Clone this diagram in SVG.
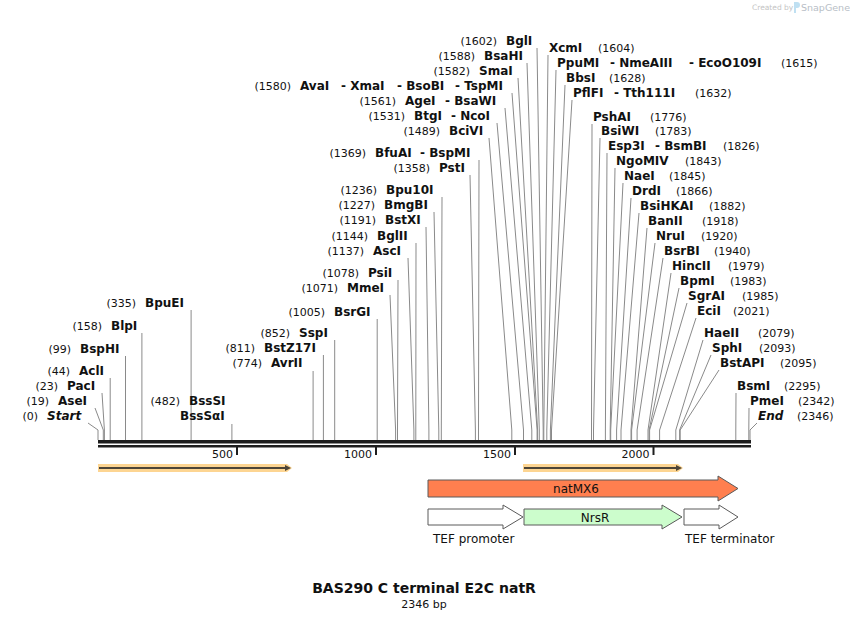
<svg xmlns="http://www.w3.org/2000/svg" width="850" height="620" viewBox="0 0 850 620">
<style>
text{font-family:"DejaVu Sans","Verdana",sans-serif;fill:#111}
.n{font-weight:bold;font-size:12px}
.i{font-weight:bold;font-style:italic;font-size:12px}
.d{font-size:11px}
.e{font-size:11px;text-anchor:end}
.ln{fill:none;stroke:#8a8a8a;stroke-width:1}
.tk{font-size:11px;text-anchor:end}
.ft{stroke:#5a5a5a;stroke-width:1}
.fl{font-size:12px}
</style>
<rect width="850" height="620" fill="#fff"/>
<g id="watermark">
<text x="752" y="10" style="font-size:7.5px;fill:#c4c4c4">Created by</text>
<path d="M794 2 h3 a3 3 0 0 1 0 6 h-1 v5 h-2 z" fill="#bfe0f2"/>
<text x="801" y="11" style="font-size:9.5px;fill:#b8bec6">SnapGene</text>
</g>
<g id="connectors">
<path class="ln" d="M88 423 L98 430 V440"/>
<path class="ln" d="M95 408 L103.3 430 V440"/>
<path class="ln" d="M102 393 L104.4 430 V440"/>
<path class="ln" d="M110.2 378 V440"/>
<path class="ln" d="M125.5 356 V440"/>
<path class="ln" d="M141.9 333 V440"/>
<path class="ln" d="M191.1 310 V440"/>
<path class="ln" d="M231.9 424 V440"/>
<path class="ln" d="M313.1 371 V440"/>
<path class="ln" d="M323.4 355 V440"/>
<path class="ln" d="M334.7 340 V440"/>
<path class="ln" d="M377.2 319 V440"/>
<path class="ln" d="M390 295 L395.6 430 V440"/>
<path class="ln" d="M398 280 L397.5 430 V440"/>
<path class="ln" d="M408 258 L413.9 430 V440"/>
<path class="ln" d="M416 243 L415.8 430 V440"/>
<path class="ln" d="M426 227 L428.9 430 V440"/>
<path class="ln" d="M434 212 L438.8 430 V440"/>
<path class="ln" d="M442 197 L441.3 430 V440"/>
<path class="ln" d="M470 175 L475.4 430 V440"/>
<path class="ln" d="M479 160 L478.5 430 V440"/>
<path class="ln" d="M489 138 L511.8 430 V440"/>
<path class="ln" d="M497 123 L523.5 430 V440"/>
<path class="ln" d="M505 108 L531.8 430 V440"/>
<path class="ln" d="M512 93 L537.1 430 V440"/>
<path class="ln" d="M518 78 L537.6 430 V440"/>
<path class="ln" d="M527 63 L539.3 430 V440"/>
<path class="ln" d="M537 48 L543.2 430 V440"/>
<path class="ln" d="M548 55 L543.8 430 V440"/>
<path class="ln" d="M556 70 L546.8 430 V440"/>
<path class="ln" d="M565 85 L550.4 430 V440"/>
<path class="ln" d="M572 100 L551.5 430 V440"/>
<path class="ln" d="M592 124 L591.5 430 V440"/>
<path class="ln" d="M600 138 L593.5 430 V440"/>
<path class="ln" d="M607 153 L605.4 430 V440"/>
<path class="ln" d="M615 168 L610.2 430 V440"/>
<path class="ln" d="M623 183 L610.7 430 V440"/>
<path class="ln" d="M631 198 L616.6 430 V440"/>
<path class="ln" d="M639 213 L621 430 V440"/>
<path class="ln" d="M647 228 L631 430 V440"/>
<path class="ln" d="M655 243 L631.6 430 V440"/>
<path class="ln" d="M663 258 L637.1 430 V440"/>
<path class="ln" d="M671 273 L648 430 V440"/>
<path class="ln" d="M679 288 L649.1 430 V440"/>
<path class="ln" d="M687 303 L649.6 430 V440"/>
<path class="ln" d="M696 318 L659.6 430 V440"/>
<path class="ln" d="M703 340 L675.8 430 V440"/>
<path class="ln" d="M711 355 L679.6 430 V440"/>
<path class="ln" d="M719 370 L680.2 430 V440"/>
<path class="ln" d="M736 393 L735.8 430 V440"/>
<path class="ln" d="M749 408 L748.8 430 V440"/>
<path class="ln" d="M757 423 L750 430 V440"/>
</g>
<g id="ruler">
<rect x="98" y="440" width="653" height="3.5" fill="#1e1e1e"/>
<rect x="98" y="445" width="653" height="2.5" fill="#1e1e1e"/>
<rect x="236" y="447" width="2" height="8" fill="#1e1e1e"/>
<rect x="375" y="447" width="2" height="8" fill="#1e1e1e"/>
<rect x="514" y="447" width="2" height="8" fill="#1e1e1e"/>
<rect x="652.5" y="447" width="2" height="8" fill="#1e1e1e"/>
<text class="tk" x="233" y="458">500</text>
<text class="tk" x="372" y="458">1000</text>
<text class="tk" x="511" y="458">1500</text>
<text class="tk" x="649.5" y="458">2000</text>
</g>
<g id="orf1">
<path d="M98 464 H287 L292 468 L287 472 H98 Z" fill="#fdd592"/>
<path d="M99 468 H286" stroke="#4d4538" stroke-width="2"/>
<path d="M285 465 L291 468 L285 471 Z" fill="#4d4538"/>
</g>
<g id="orf2">
<path d="M523 464 H678 L683 468 L678 472 H523 Z" fill="#fdd592"/>
<path d="M524 468 H677" stroke="#4d4538" stroke-width="2"/>
<path d="M676 465 L682 468 L676 471 Z" fill="#4d4538"/>
</g>
<g id="natMX6">
<path class="ft" d="M428 480 H718 V476 L738 488.5 L718 501 V497 H428 Z" fill="#ff7f4f"/>
<text class="fl" x="576" y="493" text-anchor="middle">natMX6</text>
</g>
<g id="TEF_promoter">
<path class="ft" d="M428 509 H503 V505 L523 517 L503 529 V525 H428 Z" fill="#fff"/>
<text class="fl" x="433" y="543">TEF promoter</text>
</g>
<g id="NrsR">
<path class="ft" d="M524 509 H662 V505 L682 517 L662 529 V525 H524 Z" fill="#ccfdcc"/>
<text class="fl" x="595" y="522" text-anchor="middle">NrsR</text>
</g>
<g id="TEF_terminator">
<path class="ft" d="M684 509 H719 V505 L738 517 L719 529 V525 H684 Z" fill="#fff"/>
<text class="fl" x="685" y="543">TEF terminator</text>
</g>
<g id="e_Start"><text class="e" x="38" y="420">(0)</text><text class="i" x="47" y="420">Start</text></g>
<g id="e_AseI"><text class="e" x="49" y="405">(19)</text><text class="n" x="58" y="405">AseI</text></g>
<g id="e_PacI"><text class="e" x="58" y="390">(23)</text><text class="n" x="67" y="390">PacI</text></g>
<g id="e_AclI"><text class="e" x="70" y="375">(44)</text><text class="n" x="79" y="375">AclI</text></g>
<g id="e_BspHI"><text class="e" x="71" y="353">(99)</text><text class="n" x="80" y="353">BspHI</text></g>
<g id="e_BlpI"><text class="e" x="102" y="330">(158)</text><text class="n" x="111" y="330">BlpI</text></g>
<g id="e_BpuEI"><text class="e" x="136" y="307">(335)</text><text class="n" x="145" y="307">BpuEI</text></g>
<g id="e_BssSI"><text class="e" x="180" y="405">(482)</text><text class="n" x="189" y="405">BssSI</text><text class="n" x="180" y="420">BssSαI</text></g>
<g id="e_AvrII"><text class="e" x="262" y="367">(774)</text><text class="n" x="271" y="367">AvrII</text></g>
<g id="e_BstZ17I"><text class="e" x="255" y="352">(811)</text><text class="n" x="264" y="352">BstZ17I</text></g>
<g id="e_SspI"><text class="e" x="290" y="337">(852)</text><text class="n" x="299" y="337">SspI</text></g>
<g id="e_BsrGI"><text class="e" x="325" y="316">(1005)</text><text class="n" x="334" y="316">BsrGI</text></g>
<g id="e_MmeI"><text class="e" x="338" y="292">(1071)</text><text class="n" x="347" y="292">MmeI</text></g>
<g id="e_PsiI"><text class="e" x="359" y="277">(1078)</text><text class="n" x="368" y="277">PsiI</text></g>
<g id="e_AscI"><text class="e" x="364" y="255">(1137)</text><text class="n" x="373" y="255">AscI</text></g>
<g id="e_BglII"><text class="e" x="368" y="240">(1144)</text><text class="n" x="377" y="240">BglII</text></g>
<g id="e_BstXI"><text class="e" x="376" y="224">(1191)</text><text class="n" x="385" y="224">BstXI</text></g>
<g id="e_BmgBI"><text class="e" x="375" y="209">(1227)</text><text class="n" x="384" y="209">BmgBI</text></g>
<g id="e_Bpu10I"><text class="e" x="377" y="194">(1236)</text><text class="n" x="386" y="194">Bpu10I</text></g>
<g id="e_PstI"><text class="e" x="430" y="172">(1358)</text><text class="n" x="439" y="172">PstI</text></g>
<g id="e_BfuAI"><text class="e" x="366" y="157">(1369)</text><text class="n" x="375" y="157">BfuAI</text><text class="n" x="420" y="157">- BspMI</text></g>
<g id="e_BciVI"><text class="e" x="440" y="135">(1489)</text><text class="n" x="449" y="135">BciVI</text></g>
<g id="e_BtgI"><text class="e" x="405" y="120">(1531)</text><text class="n" x="414" y="120">BtgI</text><text class="n" x="451" y="120">- NcoI</text></g>
<g id="e_AgeI"><text class="e" x="396" y="105">(1561)</text><text class="n" x="405" y="105">AgeI</text><text class="n" x="445" y="105">- BsaWI</text></g>
<g id="e_AvaI"><text class="e" x="291" y="90">(1580)</text><text class="n" x="300" y="90">AvaI</text><text class="n" x="341" y="90">- XmaI</text><text class="n" x="397" y="90">- BsoBI</text><text class="n" x="455" y="90">- TspMI</text></g>
<g id="e_SmaI"><text class="e" x="470" y="75">(1582)</text><text class="n" x="479" y="75">SmaI</text></g>
<g id="e_BsaHI"><text class="e" x="475" y="60">(1588)</text><text class="n" x="484" y="60">BsaHI</text></g>
<g id="e_BglI"><text class="e" x="497" y="45">(1602)</text><text class="n" x="506" y="45">BglI</text></g>
<g id="e_XcmI"><text class="n" x="549" y="52">XcmI</text><text class="d" x="598" y="52">(1604)</text></g>
<g id="e_PpuMI"><text class="n" x="557" y="67">PpuMI</text><text class="n" x="610" y="67">- NmeAIII</text><text class="n" x="689" y="67">- EcoO109I</text><text class="d" x="781" y="67">(1615)</text></g>
<g id="e_BbsI"><text class="n" x="566" y="82">BbsI</text><text class="d" x="609" y="82">(1628)</text></g>
<g id="e_PflFI"><text class="n" x="573" y="97">PflFI</text><text class="n" x="614" y="97">- Tth111I</text><text class="d" x="695" y="97">(1632)</text></g>
<g id="e_PshAI"><text class="n" x="593" y="121">PshAI</text><text class="d" x="650" y="121">(1776)</text></g>
<g id="e_BsiWI"><text class="n" x="601" y="135">BsiWI</text><text class="d" x="655" y="135">(1783)</text></g>
<g id="e_Esp3I"><text class="n" x="608" y="150">Esp3I</text><text class="n" x="655" y="150">- BsmBI</text><text class="d" x="723" y="150">(1826)</text></g>
<g id="e_NgoMIV"><text class="n" x="616" y="165">NgoMIV</text><text class="d" x="685" y="165">(1843)</text></g>
<g id="e_NaeI"><text class="n" x="624" y="180">NaeI</text><text class="d" x="669" y="180">(1845)</text></g>
<g id="e_DrdI"><text class="n" x="632" y="195">DrdI</text><text class="d" x="676" y="195">(1866)</text></g>
<g id="e_BsiHKAI"><text class="n" x="640" y="210">BsiHKAI</text><text class="d" x="709" y="210">(1882)</text></g>
<g id="e_BanII"><text class="n" x="648" y="225">BanII</text><text class="d" x="702" y="225">(1918)</text></g>
<g id="e_NruI"><text class="n" x="656" y="240">NruI</text><text class="d" x="701" y="240">(1920)</text></g>
<g id="e_BsrBI"><text class="n" x="664" y="255">BsrBI</text><text class="d" x="714" y="255">(1940)</text></g>
<g id="e_HincII"><text class="n" x="672" y="270">HincII</text><text class="d" x="728" y="270">(1979)</text></g>
<g id="e_BpmI"><text class="n" x="680" y="285">BpmI</text><text class="d" x="730" y="285">(1983)</text></g>
<g id="e_SgrAI"><text class="n" x="688" y="300">SgrAI</text><text class="d" x="742" y="300">(1985)</text></g>
<g id="e_EciI"><text class="n" x="697" y="315">EciI</text><text class="d" x="733" y="315">(2021)</text></g>
<g id="e_HaeII"><text class="n" x="704" y="337">HaeII</text><text class="d" x="758" y="337">(2079)</text></g>
<g id="e_SphI"><text class="n" x="712" y="352">SphI</text><text class="d" x="759" y="352">(2093)</text></g>
<g id="e_BstAPI"><text class="n" x="720" y="367">BstAPI</text><text class="d" x="780" y="367">(2095)</text></g>
<g id="e_BsmI"><text class="n" x="737" y="390">BsmI</text><text class="d" x="784" y="390">(2295)</text></g>
<g id="e_PmeI"><text class="n" x="750" y="405">PmeI</text><text class="d" x="798" y="405">(2342)</text></g>
<g id="e_End"><text class="i" x="758" y="420">End</text><text class="d" x="797" y="420">(2346)</text></g>
<g id="title">
<text x="424" y="593" text-anchor="middle" style="font-weight:bold;font-size:14px">BAS290 C terminal E2C natR</text>
<text x="424" y="608" text-anchor="middle" style="font-size:11px">2346 bp</text>
</g>
</svg>
